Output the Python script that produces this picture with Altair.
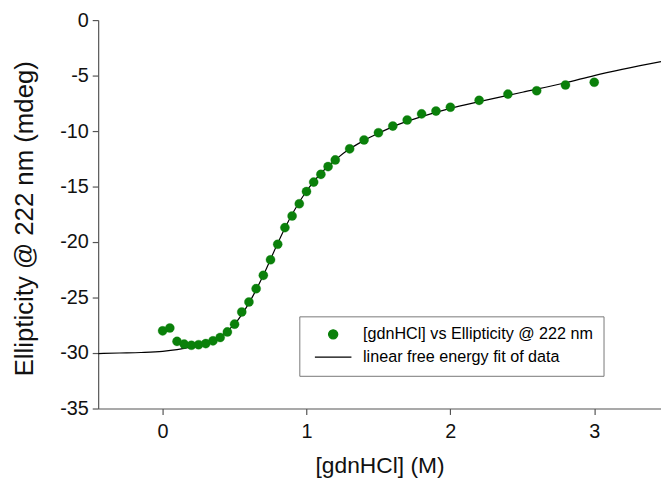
import altair as alt
import pandas as pd

# ---- data ----
conc = [0.0, 0.05, 0.1, 0.15, 0.2, 0.25, 0.3, 0.35, 0.4, 0.45, 0.5, 0.55, 0.6,
        0.65, 0.7, 0.75, 0.8, 0.85, 0.9, 0.95, 1.0, 1.05, 1.1, 1.15, 1.2,
        1.3, 1.4, 1.5, 1.6, 1.7, 1.8, 1.9, 2.0, 2.2, 2.4, 2.6, 2.8, 3.0]
ellipticity = [-28.0, -27.75, -28.95, -29.2, -29.3, -29.25, -29.15, -28.9, -28.6,
               -28.1, -27.4, -26.3, -25.4, -24.2, -23.0, -21.6, -20.2, -18.7,
               -17.65, -16.55, -15.45, -14.6, -13.9, -13.2, -12.6, -11.6, -10.8,
               -10.15, -9.55, -9.0, -8.45, -8.2, -7.85, -7.23, -6.67, -6.37,
               -5.85, -5.6]

fit_x = [-0.448, -0.3, -0.15, 0.0, 0.1, 0.2, 0.3, 0.4, 0.5, 0.6, 0.7, 0.8, 0.9,
         1.0, 1.1, 1.2, 1.3, 1.4, 1.5, 1.6, 1.8, 2.0, 2.2, 2.5, 2.8, 3.0, 3.464]
fit_y = [-30.05, -30.0, -29.95, -29.85, -29.7, -29.45, -29.1, -28.5, -27.4,
         -25.5, -23.0, -20.1, -17.5, -15.4, -13.8, -12.6, -11.6, -10.85, -10.2,
         -9.6, -8.7, -7.95, -7.35, -6.5, -5.65, -5.0, -3.75]

x_ticks = [0, 1, 2, 3]
y_ticks = [0, -5, -10, -15, -20, -25, -30, -35]

pts_label = "[gdnHCl] vs Ellipticity @ 222 nm"
fit_label = "linear free energy fit of data"

pts = pd.DataFrame({"x": conc, "y": ellipticity, "series": pts_label})
fit = pd.DataFrame({"x": fit_x, "y": fit_y, "series": fit_label})

FONT = "Liberation Sans"
GREEN = "#0a800a"
MINUS_FIX = "replace(datum.label, '\u2212', '-')"

xscale = alt.Scale(domain=[-0.448, 3.464], nice=False, zero=False)
yscale = alt.Scale(domain=[-35, 0], nice=False)

xaxis = alt.Axis(values=x_ticks, title="[gdnHCl] (M)", grid=False,
                 labelFontSize=20, titleFontSize=23, labelPadding=7,
                 titlePadding=14, tickSize=6, titleLimit=1000)
yaxis = alt.Axis(values=y_ticks, title="Ellipticity @ 222 nm (mdeg)", grid=False,
                 labelFontSize=20, titleFontSize=26, labelPadding=4,
                 titlePadding=22, tickSize=6, labelExpr=MINUS_FIX,
                 titleLimit=1000, titleY=200)

domain = [pts_label, fit_label]
legend = alt.Legend(title=None, orient="none", legendX=203, legendY=299,
                    direction="vertical", padding=10, strokeColor="#777",
                    fillColor="white", labelFont=FONT, labelFontSize=16.3,
                    labelColor="black", labelOffset=22, symbolOffset=16,
                    symbolSize=85, symbolStrokeWidth=1.3, rowPadding=6,
                    symbolOpacity=1, labelLimit=400)

color = alt.Color("series:N", scale=alt.Scale(domain=domain, range=[GREEN, "black"]),
                  legend=legend)
stroke = alt.Stroke("series:N", scale=alt.Scale(domain=domain, range=[GREEN, "black"]),
                    legend=legend)
shape = alt.Shape("series:N", scale=alt.Scale(domain=domain, range=["circle", "M-4,0L4,0"]),
                  legend=legend)

line = alt.Chart(fit).mark_line(strokeWidth=1.2, clip=True, interpolate="monotone").encode(
    x=alt.X("x:Q", scale=xscale, axis=xaxis),
    y=alt.Y("y:Q", scale=yscale, axis=yaxis),
    color=color,
)

points = alt.Chart(pts).mark_point(filled=True, size=85, opacity=1, strokeWidth=0.3).encode(
    x=alt.X("x:Q", scale=xscale, axis=xaxis),
    y=alt.Y("y:Q", scale=yscale, axis=yaxis),
    color=color,
    stroke=stroke,
    shape=shape,
)

chart = alt.layer(line, points).properties(
    width=568, height=392,
    autosize=alt.AutoSizeParams(type="none"),
    padding={"left": 91, "top": 10, "right": 0, "bottom": 76},
).configure_view(stroke=None).configure_axis(
    labelFont=FONT, titleFont=FONT, labelColor="#111", titleColor="#111",
    domainColor="#555", tickColor="#555", titleFontWeight="normal",
    domainWidth=1.2, tickWidth=1.2,
)

chart.save("out.html", embed_options={"renderer": "svg", "actions": False})
